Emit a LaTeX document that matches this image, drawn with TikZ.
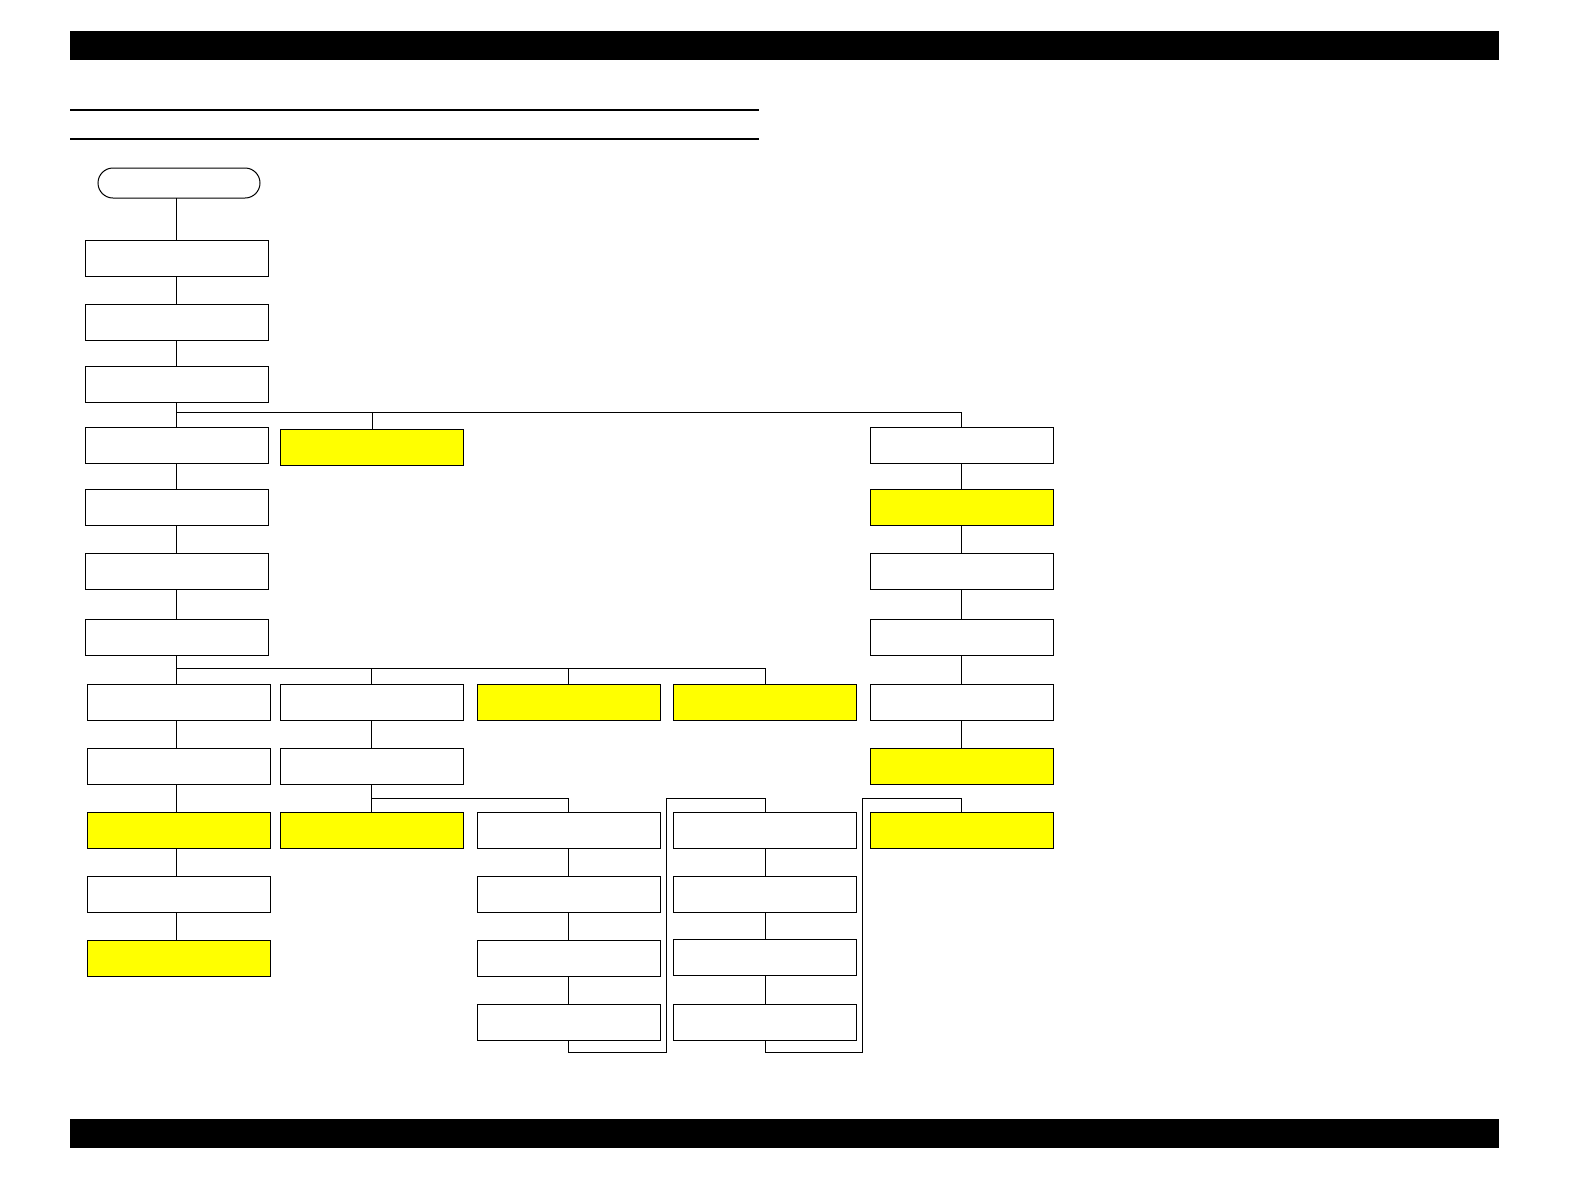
\documentclass[tikz,border=0pt]{standalone}
\usepackage{tikz}
\definecolor{hl}{RGB}{255,255,0}
\begin{document}
\begin{tikzpicture}[x=0.5pt,y=-0.5pt,
  box/.style={draw,line width=0.5pt,minimum width=91.5pt,minimum height=18pt,inner sep=0pt,outer sep=0pt,fill=white},
  ybox/.style={box,fill=hl},
  startbox/.style={draw,line width=0.5pt,rounded corners=7.5pt,minimum width=81pt,minimum height=15pt,inner sep=0pt,outer sep=0pt},
  conn/.style={line width=0.45pt}]
\useasboundingbox (0,0) rectangle (1584,1190);
\fill (70,31) rectangle (1499,60);
\fill (70,1119) rectangle (1499,1148);
\draw[line width=0.55pt] (70,110) -- (759,110);
\draw[line width=0.55pt] (70,139) -- (759,139);
% start
\node[startbox] (s) at (179,183) {};
% column A
\node[box] (a1) at (176.5,258) {};
\node[box] (a2) at (176.5,322) {};
\node[box] (a3) at (176.5,384) {};
\node[box] (a4) at (176.5,445) {};
\node[box] (a5) at (176.5,507) {};
\node[box] (a6) at (176.5,571) {};
\node[box] (a7) at (176.5,637) {};
\node[box] (a8) at (178.5,702) {};
\node[box] (a9) at (178.5,766) {};
\node[ybox] (a10) at (178.5,830) {};
\node[box] (a11) at (178.5,894) {};
\node[ybox] (a12) at (178.5,958) {};
% column B
\node[ybox] (b0) at (372,447) {};
\node[box] (b1) at (371.5,702) {};
\node[box] (b2) at (371.5,766) {};
\node[ybox] (b3) at (371.5,830) {};
% column C
\node[ybox] (c1) at (568.5,702) {};
\node[box] (c2) at (568.5,830) {};
\node[box] (c3) at (568.5,894) {};
\node[box] (c4) at (568.5,958) {};
\node[box] (c5) at (568.5,1022) {};
% column D
\node[ybox] (d1) at (765,702) {};
\node[box] (d2) at (765,830) {};
\node[box] (d3) at (765,894) {};
\node[box] (d4) at (765,957) {};
\node[box] (d5) at (765,1022) {};
% column E
\node[box] (e1) at (961.5,445) {};
\node[ybox] (e2) at (961.5,507) {};
\node[box] (e3) at (961.5,571) {};
\node[box] (e4) at (961.5,637) {};
\node[box] (e5) at (961.5,702) {};
\node[ybox] (e6) at (961.5,766) {};
\node[ybox] (e7) at (961.5,830) {};
% junctions
\coordinate (j1) at (176.5,412);
\coordinate (j2) at (176.5,668);
\coordinate (j3) at (371.5,798);
\coordinate (r1) at (666,1052);
\coordinate (r2) at (666,798);
\coordinate (r3) at (862,1052);
\coordinate (r4) at (862,798);
% connectors
\begin{scope}[conn]
\draw (s.south -| a1.north) -- (a1.north);
\draw (a1.south) -- (a2.north);
\draw (a2.south) -- (a3.north);
\draw (a3.south) -- (j1) -- (a4.north);
\draw (j1) -| (e1.north);
\draw (j1 -| b0.north) -- (b0.north);
\draw (a4.south) -- (a5.north);
\draw (a5.south) -- (a6.north);
\draw (a6.south) -- (a7.north);
\draw (a7.south) -- (j2) -- (a8.north -| j2);
\draw (j2) -| (d1.north);
\draw (j2 -| b1.north) -- (b1.north);
\draw (j2 -| c1.north) -- (c1.north);
\draw (a8.south -| j2) -- (a9.north -| j2);
\draw (a9.south -| j2) -- (a10.north -| j2);
\draw (a10.south -| j2) -- (a11.north -| j2);
\draw (a11.south -| j2) -- (a12.north -| j2);
\draw (b1.south) -- (b2.north);
\draw (b2.south) -- (j3) -- (b3.north);
\draw (j3) -| (c2.north);
\draw (c2.south) -- (c3.north);
\draw (c3.south) -- (c4.north);
\draw (c4.south) -- (c5.north);
\draw (c5.south) |- (r1) -- (r2) -| (d2.north);
\draw (d2.south) -- (d3.north);
\draw (d3.south) -- (d4.north);
\draw (d4.south) -- (d5.north);
\draw (d5.south) |- (r3) -- (r4) -| (e7.north);
\draw (e1.south) -- (e2.north);
\draw (e2.south) -- (e3.north);
\draw (e3.south) -- (e4.north);
\draw (e4.south) -- (e5.north);
\draw (e5.south) -- (e6.north);
\end{scope}
\end{tikzpicture}
\end{document}
